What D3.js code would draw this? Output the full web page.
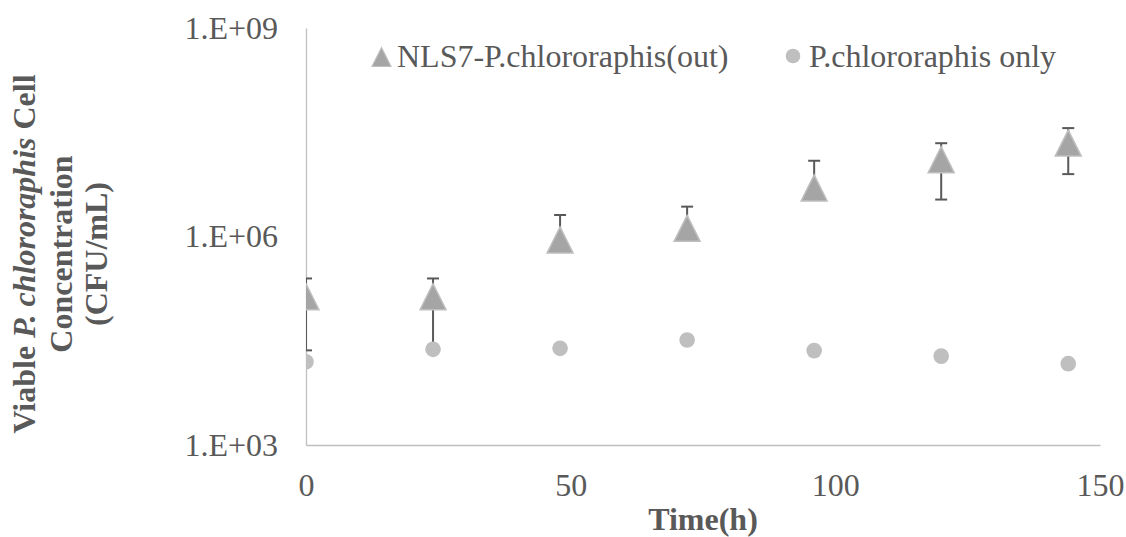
<!DOCTYPE html>
<html>
<head>
<meta charset="utf-8">
<script src="https://cdn.jsdelivr.net/npm/d3@7"></script>
<style>
  body { margin: 0; background: #fff; }
</style>
</head>
<body>
<div id="chart"></div>
<script>
const time = [0, 24, 48, 72, 96, 120, 144];
const nls7 = [1.36e5, 1.36e5, 8.9e5, 1.31e6, 5.0e6, 1.27e7, 2.21e7];
const nls7Err = [1.13e5, 1.13e5, 1.15e6, 1.38e6, 7.3e6, 9.3e6, 1.42e7];
const controlOnly = [1.58e4, 2.38e4, 2.46e4, 3.24e4, 2.28e4, 1.9e4, 1.48e4];
const yTicks = [1e3, 1e6, 1e9];
const xTicks = [0, 50, 100, 150];
const seriesNames = ['NLS7-P.chlororaphis(out)', 'P.chlororaphis only'];

const serif = '"Liberation Serif"';
const fontSize = 32;
const textColor = '#595959';
const width = 1126;
const height = 537;
const margin = { top: 28, left: 306, right: 26, bottom: 92 };

const svg = d3
  .select('#chart')
  .append('svg')
  .attr('width', width)
  .attr('height', height);

const x = d3
  .scaleLinear()
  .domain([0, 150])
  .range([margin.left, width - margin.right]);

const y = d3
  .scaleLog()
  .domain([1e3, 1e9])
  .range([height - margin.bottom, margin.top]);

const fmt = (d) => '1.E+' + String(Math.round(Math.log10(d))).padStart(2, '0');

// axes
const yAxis = svg
  .append('g')
  .attr('transform', `translate(${margin.left},0)`)
  .call(d3.axisLeft(y).tickValues(yTicks).tickFormat(fmt).tickSize(0).tickPadding(28));

const xAxis = svg
  .append('g')
  .attr('transform', `translate(0,${height - margin.bottom})`)
  .call(d3.axisBottom(x).tickValues(xTicks).tickSize(0).tickPadding(28));

[yAxis, xAxis].forEach((g) => {
  g.attr('font-family', null).attr('font-size', null);
  g.select('.domain').attr('stroke', '#bfbfbf').attr('stroke-width', 1.3);
  g.selectAll('text')
    .attr('font-family', serif)
    .attr('font-size', fontSize)
    .attr('fill', textColor);
});

// clip to plot area
svg
  .append('clipPath')
  .attr('id', 'plot')
  .append('rect')
  .attr('x', margin.left)
  .attr('y', margin.top - 20)
  .attr('width', width - margin.left - margin.right)
  .attr('height', height - margin.top - margin.bottom + 20);

const plot = svg.append('g').attr('clip-path', 'url(#plot)');

const pts = time.map((t, i) => ({ t, v: nls7[i], e: nls7Err[i], c: controlOnly[i] }));

// error bars (no lower bar when mean - err <= 0 on log axis)
const capW = 6;
const bars = plot.selectAll('.err').data(pts).enter().append('g').attr('class', 'err');

bars
  .append('line')
  .attr('x1', (d) => x(d.t))
  .attr('x2', (d) => x(d.t))
  .attr('y1', (d) => (d.v - d.e > 0 ? y(d.v - d.e) : y(d.v)))
  .attr('y2', (d) => y(d.v + d.e))
  .attr('stroke', textColor)
  .attr('stroke-width', 2);

bars
  .append('line')
  .attr('x1', (d) => x(d.t) - capW)
  .attr('x2', (d) => x(d.t) + capW)
  .attr('y1', (d) => y(d.v + d.e))
  .attr('y2', (d) => y(d.v + d.e))
  .attr('stroke', textColor)
  .attr('stroke-width', 2);

bars
  .filter((d) => d.v - d.e > 0)
  .append('line')
  .attr('x1', (d) => x(d.t) - capW)
  .attr('x2', (d) => x(d.t) + capW)
  .attr('y1', (d) => y(d.v - d.e))
  .attr('y2', (d) => y(d.v - d.e))
  .attr('stroke', textColor)
  .attr('stroke-width', 2);

const tri = (s) => `M0,${-s / 2}L${s / 2},${s / 2}L${-s / 2},${s / 2}Z`;

plot
  .selectAll('.tri')
  .data(pts)
  .enter()
  .append('path')
  .attr('class', 'tri')
  .attr('d', tri(26))
  .attr('transform', (d) => `translate(${x(d.t)},${y(d.v)})`)
  .attr('fill', '#a5a5a5')
  .attr('stroke', '#bfbfbf')
  .attr('stroke-width', 1.5);

plot
  .selectAll('.dot')
  .data(pts)
  .enter()
  .append('circle')
  .attr('class', 'dot')
  .attr('cx', (d) => x(d.t))
  .attr('cy', (d) => y(d.c))
  .attr('r', 7.8)
  .attr('fill', '#bfbfbf');

// legend
const legend = svg.append('g');
legend
  .append('path')
  .attr('d', tri(19))
  .attr('transform', 'translate(381.5,57)')
  .attr('fill', '#a5a5a5')
  .attr('stroke', '#bfbfbf')
  .attr('stroke-width', 1.2);
legend
  .append('text')
  .attr('x', 397)
  .attr('y', 67)
  .attr('font-family', serif)
  .attr('font-size', fontSize)
  .attr('fill', textColor)
  .text(seriesNames[0]);
legend
  .append('circle')
  .attr('cx', 793)
  .attr('cy', 56)
  .attr('r', 7.3)
  .attr('fill', '#bfbfbf');
legend
  .append('text')
  .attr('x', 809)
  .attr('y', 67)
  .attr('font-family', serif)
  .attr('font-size', fontSize)
  .attr('fill', textColor)
  .text(seriesNames[1]);

// axis titles
svg
  .append('text')
  .attr('x', (margin.left + width - margin.right) / 2)
  .attr('y', 530)
  .attr('text-anchor', 'middle')
  .attr('font-family', serif)
  .attr('font-size', fontSize)
  .attr('font-weight', 'bold')
  .attr('fill', textColor)
  .text('Time(h)');

const yTitle = svg
  .append('g')
  .attr('transform', 'translate(0,254) rotate(-90)');

const titleLine = (yy) =>
  yTitle
    .append('text')
    .attr('x', 0)
    .attr('y', yy)
    .attr('text-anchor', 'middle')
    .attr('font-family', serif)
    .attr('font-size', fontSize)
    .attr('font-weight', 'bold')
    .attr('fill', textColor);

const l1 = titleLine(35);
l1.append('tspan').text('Viable ');
l1.append('tspan').attr('font-style', 'italic').text('P. chlororaphis');
l1.append('tspan').text(' Cell');
titleLine(72).text('Concentration');
titleLine(107).text('(CFU/mL)');
</script>
</body>
</html>
